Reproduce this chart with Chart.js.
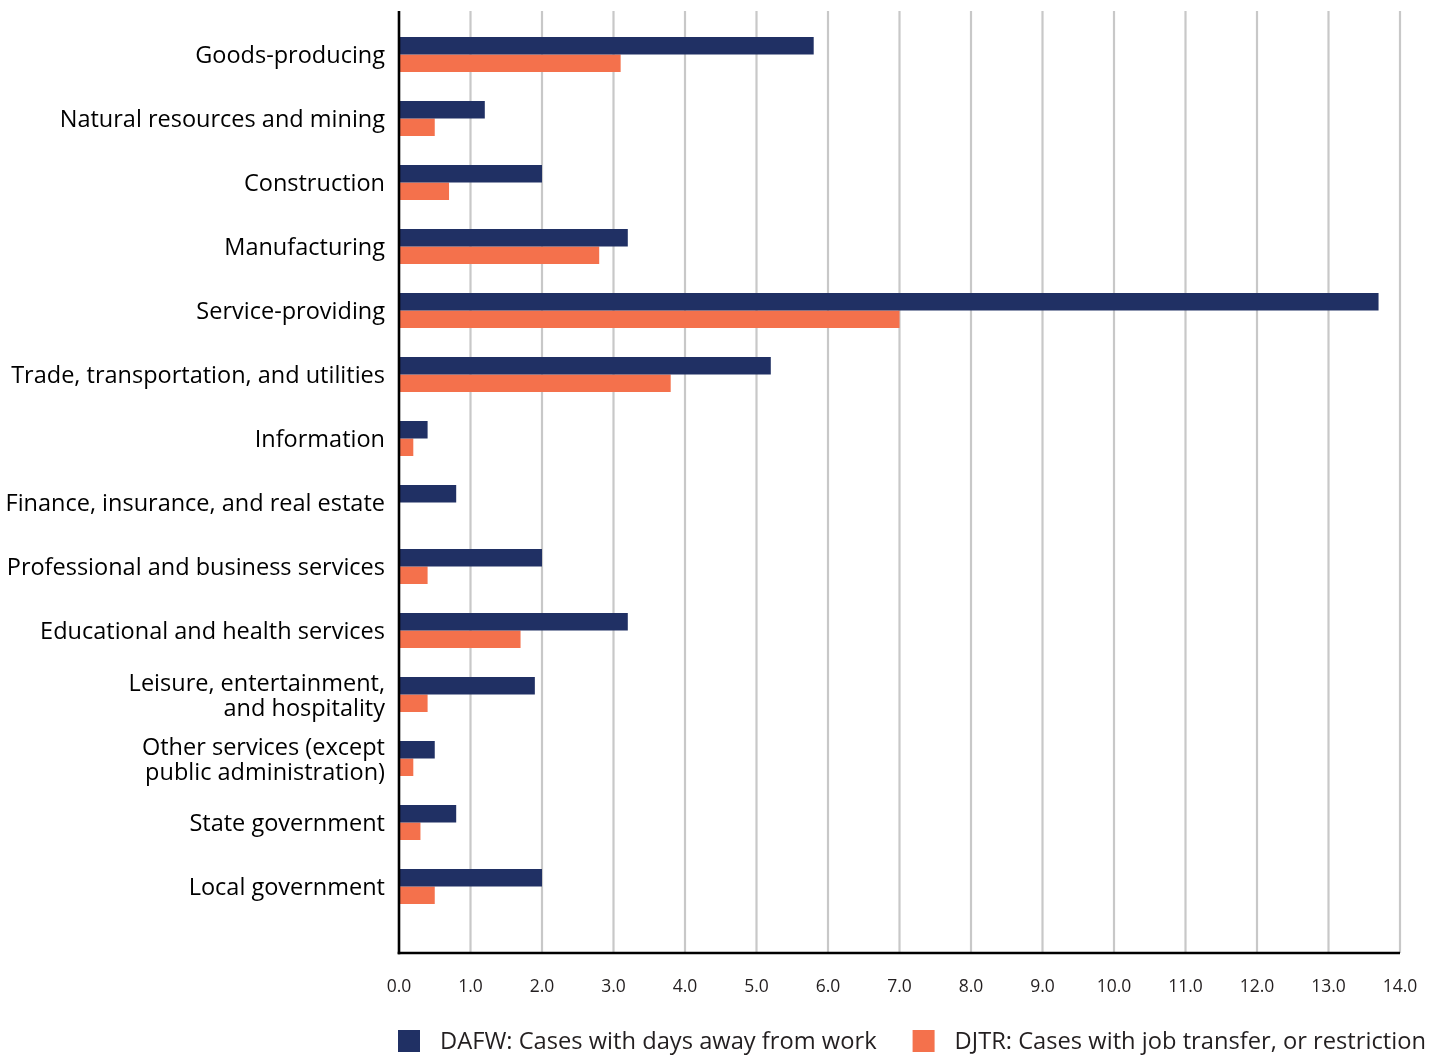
<!DOCTYPE html>
<html>
<head>
<meta charset="utf-8">
<script src="https://cdn.jsdelivr.net/npm/chart.js@4.4.1/dist/chart.umd.min.js"></script>
<style>
  html, body { margin: 0; padding: 0; background: #ffffff; }
  #wrap { width: 1448px; height: 1057px; }
</style>
</head>
<body>
<div id="wrap"><canvas id="c" width="1448" height="1057"></canvas></div>
<script>
const categories = [
  "Goods-producing",
  "Natural resources and mining",
  "Construction",
  "Manufacturing",
  "Service-providing",
  "Trade, transportation, and utilities",
  "Information",
  "Finance, insurance, and real estate",
  "Professional and business services",
  "Educational and health services",
  ["Leisure, entertainment,", "and hospitality"],
  ["Other services (except", "public administration)"],
  "State government",
  "Local government"
];
const dafw = [5.8, 1.2, 2.0, 3.2, 13.7, 5.2, 0.4, 0.8, 2.0, 3.2, 1.9, 0.5, 0.8, 2.0];
const djtr = [3.1, 0.5, 0.7, 2.8, 7.0, 3.8, 0.2, 0, 0.4, 1.7, 0.4, 0.2, 0.3, 0.5];
const seriesNames = ["DAFW: Cases with days away from work", "DJTR: Cases with job transfer, or restriction"];
const xTicks = [0,1,2,3,4,5,6,7,8,9,10,11,12,13,14];

const NAVY = "#203064";
const ORANGE = "#f4714c";
const FONT = "'Open Sans', 'Noto Sans', sans-serif";

const frame = {
  id: "frame",
  beforeDatasetsDraw(chart) {
    const { ctx, chartArea, scales } = chart;
    const top = chartArea.top - 11.5, bot = chartArea.bottom + 34.5;
    ctx.save();
    ctx.strokeStyle = "#c8c8c8";
    ctx.lineWidth = 2.2;
    xTicks.forEach(v => {
      if (v === 0) return;
      const x = scales.x.getPixelForValue(v);
      ctx.beginPath(); ctx.moveTo(x, top); ctx.lineTo(x, bot); ctx.stroke();
    });
    ctx.restore();
  },
  afterDatasetsDraw(chart) {
    const { ctx, chartArea, scales } = chart;
    const top = chartArea.top - 11.5, bot = chartArea.bottom + 34.5;
    const x0 = scales.x.getPixelForValue(0);
    const x1 = scales.x.getPixelForValue(14);
    ctx.save();
    ctx.strokeStyle = "#000000";
    ctx.lineWidth = 2.6;
    ctx.beginPath(); ctx.moveTo(x0, top); ctx.lineTo(x0, bot + 1.3); ctx.stroke();
    ctx.beginPath(); ctx.moveTo(x0 - 1.3, bot); ctx.lineTo(x1, bot); ctx.stroke();
    ctx.restore();
  },
  afterDraw(chart) {
    const { ctx, chartArea } = chart;
    const cy = chart.height - 16;
    const box = 22;
    ctx.save();
    ctx.font = "23.7px " + FONT;
    ctx.textBaseline = "middle";
    ctx.textAlign = "left";
    let x = chartArea.left - 1;
    chart.data.datasets.forEach((ds, i) => {
      ctx.fillStyle = ds.backgroundColor;
      ctx.fillRect(x, cy - box / 2, box, box);
      ctx.fillStyle = "#231f20";
      ctx.fillText(ds.label, x + box + 20, cy + 1);
      x += box + 20 + ctx.measureText(ds.label).width + 36;
    });
    ctx.restore();
  }
};

new Chart(document.getElementById("c"), {
  type: "bar",
  data: {
    labels: categories,
    datasets: [
      { label: seriesNames[0], data: dafw, backgroundColor: NAVY, borderWidth: 0 },
      { label: seriesNames[1], data: djtr, backgroundColor: ORANGE, borderWidth: 0 }
    ]
  },
  options: {
    indexAxis: "y",
    responsive: false,
    animation: false,
    events: [],
    layout: { padding: { top: 22.5, right: 48, bottom: 60, left: 0 } },
    datasets: { bar: { barPercentage: 1.0, categoryPercentage: 0.547 } },
    plugins: { legend: { display: false }, tooltip: { enabled: false } },
    scales: {
      x: {
        type: "linear",
        min: 0, max: 14,
        afterBuildTicks(scale) { scale.ticks = xTicks.map(v => ({ value: v })); },
        afterFit(scale) { scale.height = 78.5; },
        grid: { display: true, drawOnChartArea: false, drawTicks: true, tickLength: 58, tickColor: "rgba(0,0,0,0)" },
        border: { display: false },
        ticks: {
          padding: 0,
          color: "#231f20",
          font: { family: FONT, size: 17.5 },
          maxRotation: 0,
          autoSkip: false,
          callback: v => Number(v).toFixed(1)
        }
      },
      y: {
        afterFit(scale) { scale.width = 399; },
        grid: { display: true, drawOnChartArea: false, drawTicks: true, tickLength: 14, tickColor: "rgba(0,0,0,0)" },
        border: { display: false },
        ticks: {
          padding: 0,
          labelOffset: 2,
          color: "#000000",
          autoSkip: false,
          font: { family: FONT, size: 23.5, lineHeight: 1.05 }
        }
      }
    }
  },
  plugins: [frame]
});
</script>
</body>
</html>
